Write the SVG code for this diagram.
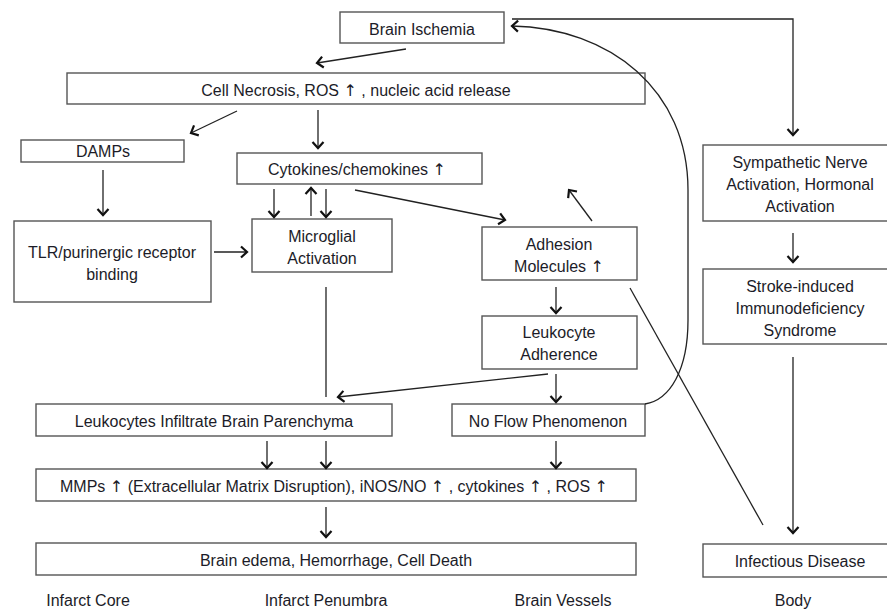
<svg xmlns="http://www.w3.org/2000/svg" width="887" height="612" viewBox="0 0 887 612">
<style>
.box{fill:#fff;stroke:#555;stroke-width:1.4}
.t{font-family:"Liberation Sans",Arial,sans-serif;font-size:16px;fill:#1c1c28;text-anchor:middle}
.up{font-family:"DejaVu Sans",sans-serif;font-size:16px}
.c{fill:none;stroke:#222;stroke-width:1.3}
.a{marker-end:url(#ah)}
</style>
<defs>
<marker id="ah" markerUnits="userSpaceOnUse" markerWidth="14" markerHeight="14" refX="8" refY="7" orient="auto">
<path d="M2,1.5 L8,7 L2,12.5" fill="none" stroke="#111" stroke-width="2.2"/>
</marker>
</defs>
<rect width="887" height="612" fill="#fff"/>
<g id="brain-ischemia"><rect class="box" x="340" y="12" width="164" height="31"/><text class="t" x="422" y="35">Brain Ischemia</text></g>
<g id="cell-necrosis"><rect class="box" x="67" y="73" width="578" height="31"/><text class="t" x="356" y="96">Cell Necrosis, ROS <tspan class="up">↑</tspan> , nucleic acid release</text></g>
<g id="damps"><rect class="box" x="21" y="140" width="163" height="22"/><text class="t" x="103" y="157">DAMPs</text></g>
<g id="cytokines"><rect class="box" x="237" y="153" width="245" height="31"/><text class="t" x="357" y="175">Cytokines/chemokines <tspan class="up">↑</tspan></text></g>
<g id="tlr"><rect class="box" x="14" y="221" width="197" height="81"/><text class="t" x="112" y="258">TLR/purinergic receptor</text><text class="t" x="112" y="280">binding</text></g>
<g id="microglial"><rect class="box" x="252" y="219" width="140" height="53"/><text class="t" x="322" y="242">Microglial</text><text class="t" x="322" y="264">Activation</text></g>
<g id="adhesion"><rect class="box" x="482" y="227" width="155" height="53"/><text class="t" x="559" y="250">Adhesion</text><text class="t" x="559" y="272">Molecules <tspan class="up">↑</tspan></text></g>
<g id="leukocyte-adherence"><rect class="box" x="482" y="316" width="155" height="53"/><text class="t" x="559" y="338">Leukocyte</text><text class="t" x="559" y="360">Adherence</text></g>
<g id="sympathetic"><rect class="box" x="703" y="145" width="200" height="76"/><text class="t" x="800" y="168">Sympathetic Nerve</text><text class="t" x="800" y="190">Activation, Hormonal</text><text class="t" x="800" y="212">Activation</text></g>
<g id="sids"><rect class="box" x="703" y="269" width="200" height="75"/><text class="t" x="800" y="292">Stroke-induced</text><text class="t" x="800" y="314">Immunodeficiency</text><text class="t" x="800" y="336">Syndrome</text></g>
<g id="leukocytes-infiltrate"><rect class="box" x="36" y="404" width="356" height="32"/><text class="t" x="214" y="427">Leukocytes Infiltrate Brain Parenchyma</text></g>
<g id="no-flow"><rect class="box" x="452" y="404" width="193" height="32"/><text class="t" x="548" y="427">No Flow Phenomenon</text></g>
<g id="mmps"><rect class="box" x="36" y="469" width="600" height="32"/><text class="t" x="334" y="492">MMPs <tspan class="up">↑</tspan> (Extracellular Matrix Disruption), iNOS/NO <tspan class="up">↑</tspan> , cytokines <tspan class="up">↑</tspan> , ROS <tspan class="up">↑</tspan></text></g>
<g id="brain-edema"><rect class="box" x="36" y="543" width="600" height="32"/><text class="t" x="336" y="566">Brain edema, Hemorrhage, Cell Death</text></g>
<g id="infectious"><rect class="box" x="703" y="544" width="200" height="33"/><text class="t" x="800" y="567">Infectious Disease</text></g>
<g id="labels">
<text class="t" x="88" y="606">Infarct Core</text>
<text class="t" x="326" y="606">Infarct Penumbra</text>
<text class="t" x="563" y="606">Brain Vessels</text>
<text class="t" x="793" y="606">Body</text>
</g>
<g id="connectors">
<line class="c a" x1="406" y1="49" x2="317" y2="63"/>
<line class="c a" x1="237" y1="111" x2="191" y2="133"/>
<line class="c a" x1="318" y1="110" x2="318" y2="148"/>
<line class="c a" x1="103" y1="170" x2="103" y2="215"/>
<line class="c a" x1="214" y1="252" x2="247" y2="252"/>
<line class="c a" x1="274" y1="189" x2="274" y2="217"/>
<line class="c a" x1="311" y1="216" x2="311" y2="188"/>
<line class="c a" x1="326" y1="189" x2="326" y2="217"/>
<line class="c" x1="326" y1="287" x2="326" y2="397"/>
<line class="c a" x1="355" y1="190" x2="505" y2="220"/>
<line class="c a" x1="592" y1="221" x2="569" y2="190"/>
<line class="c a" x1="556" y1="287" x2="556" y2="313"/>
<line class="c a" x1="548" y1="374" x2="338" y2="397"/>
<line class="c a" x1="556" y1="374" x2="556" y2="402"/>
<line class="c a" x1="267" y1="441" x2="267" y2="468"/>
<line class="c a" x1="326" y1="441" x2="326" y2="468"/>
<line class="c a" x1="556" y1="441" x2="556" y2="468"/>
<line class="c a" x1="326" y1="507" x2="326" y2="537"/>
<path class="c a" d="M512,19 H793 V135"/>
<line class="c a" x1="793" y1="233" x2="793" y2="262"/>
<line class="c a" x1="793" y1="357" x2="793" y2="533"/>
<line class="c" x1="630" y1="288" x2="763" y2="525"/>
<path class="c a" d="M645,404 C670,400 688,370 688,320 L688,190 C688,90 610,28 512,26"/>
</g>
</svg>
